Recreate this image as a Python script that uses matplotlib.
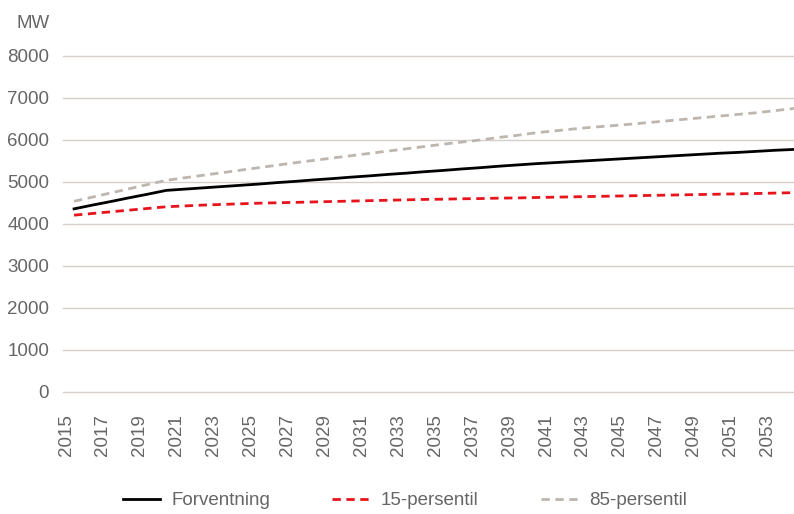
import matplotlib.pyplot as plt
from matplotlib.transforms import ScaledTranslation

years = list(range(2015, 2055))

forventning = [4360, 4450, 4535, 4625, 4710, 4800, 4830, 4860, 4890, 4920,
               4950, 4985, 5015, 5050, 5080, 5115, 5145, 5180, 5210, 5245,
               5275, 5310, 5340, 5375, 5405, 5435, 5460, 5485, 5510, 5535,
               5560, 5585, 5610, 5635, 5660, 5685, 5705, 5730, 5755, 5775]

p15 = [4210, 4250, 4290, 4330, 4370, 4410, 4430, 4450, 4465, 4480,
       4495, 4505, 4515, 4525, 4535, 4545, 4555, 4565, 4575, 4585,
       4590, 4600, 4605, 4615, 4620, 4630, 4638, 4646, 4654, 4662,
       4670, 4678, 4686, 4694, 4702, 4710, 4718, 4726, 4736, 4745]

p85 = [4540, 4640, 4740, 4840, 4940, 5040, 5100, 5160, 5220, 5280,
       5340, 5400, 5460, 5515, 5570, 5625, 5680, 5735, 5790, 5845,
       5900, 5950, 6000, 6060, 6110, 6170, 6215, 6260, 6300, 6335,
       6370, 6410, 6450, 6490, 6530, 6570, 6610, 6650, 6700, 6750]

y_ticks = [0, 1000, 2000, 3000, 4000, 5000, 6000, 7000, 8000]

plt.rcParams['font.family'] = ['Liberation Sans', 'DejaVu Sans']
text_col = '#666666'

fig = plt.figure(figsize=(7.94, 5.14), dpi=100)
ax = fig.add_axes([0.0793, 0.2374, 0.9207, 0.6537])

x = list(range(len(years)))
ax.plot(x, forventning, color='black', lw=2.0, label='Forventning', zorder=3)
ax.plot(x, p15, color='#e8141c', lw=2.0, dashes=(3, 2), label='15-persentil', zorder=3)
ax.plot(x, p85, color='#bdb6ae', lw=2.0, dashes=(3, 2), label='85-persentil', zorder=3)

ax.set_xlim(-0.6, 39)
ax.set_ylim(0, 8000)
ax.set_yticks(y_ticks)
ax.set_yticklabels([str(v) for v in y_ticks])
ax.set_xticks(x[::2])
ax.set_xticklabels([str(y) for y in years[::2]], rotation=90)

ax.grid(axis='y', color='#d6d0ca', lw=1.0)
ax.set_axisbelow(True)
for gl in ax.get_ygridlines():
    gl.set_clip_on(False)
for s in ax.spines.values():
    s.set_visible(False)
ax.tick_params(axis='both', length=0, labelsize=13.5, colors=text_col)
ax.tick_params(axis='y', pad=10)
ax.tick_params(axis='x', pad=16)

# labels sit a little left of the data points, like the original
shift = ScaledTranslation(-8 / 100, 0, fig.dpi_scale_trans)
for lbl in ax.get_xticklabels():
    lbl.set_transform(lbl.get_transform() + shift)

fig.text(0.021, 0.955, 'MW', fontsize=13.5, color=text_col, va='center')

leg = fig.legend(loc='lower center', bbox_to_anchor=(0.51, -0.024), ncol=3,
                 frameon=False, fontsize=13.5, columnspacing=3.3,
                 handlelength=2.0, handletextpad=0.6)
for t in leg.get_texts():
    t.set_color(text_col)

plt.savefig('out.png', dpi=100)
